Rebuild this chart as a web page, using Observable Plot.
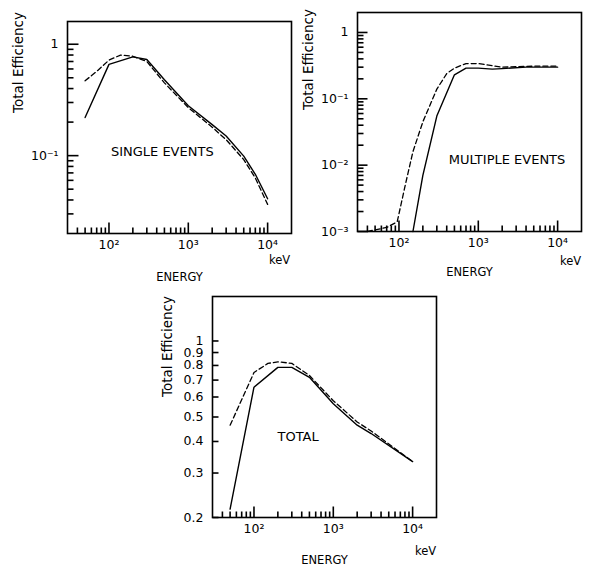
<!DOCTYPE html>
<html><head><meta charset="utf-8">
<script src="https://cdn.jsdelivr.net/npm/d3@7"></script>
<script src="https://cdn.jsdelivr.net/npm/@observablehq/plot@0.6"></script>
<style>
body{margin:0;background:#fff;}
#page{position:relative;width:593px;height:574px;background:#fff;overflow:hidden;}
#page > div{position:absolute;}
svg text{font-family:"DejaVu Sans",sans-serif;}
</style></head><body>
<div id="page"><div id="p1"></div><div id="p2"></div><div id="p3"></div></div>
<script>
// ---- data (energy in keV, total efficiency) ----
const singleSolidE   = [50, 100, 200, 300, 500, 1000, 2000, 3000, 5000, 7000, 10000];
const singleSolidEff = [0.22, 0.66, 0.77, 0.73, 0.48, 0.28, 0.19, 0.15, 0.099, 0.068, 0.041];
const singleDashE    = [50, 70, 100, 140, 200, 300, 500, 1000, 2000, 3000, 5000, 7000, 10000];
const singleDashEff  = [0.47, 0.57, 0.72, 0.80, 0.78, 0.70, 0.45, 0.27, 0.18, 0.139, 0.092, 0.063, 0.0365];

const multiSolidE    = [150, 200, 300, 500, 700, 1000, 1500, 2000, 4000, 10000];
const multiSolidEff  = [0.001, 0.007, 0.055, 0.23, 0.29, 0.29, 0.28, 0.285, 0.30, 0.30];
const multiDashE     = [40, 70, 95, 120, 150, 200, 300, 400, 500, 700, 1000, 2000, 5000, 10000];
const multiDashEff   = [0.001, 0.00115, 0.0014, 0.005, 0.016, 0.045, 0.14, 0.24, 0.29, 0.34, 0.34, 0.30, 0.31, 0.31];

const totalSolidE    = [50, 100, 200, 300, 500, 1000, 2000, 3000, 10000];
const totalSolidEff  = [0.216, 0.656, 0.786, 0.786, 0.718, 0.564, 0.464, 0.43, 0.333];
const totalDashE     = [50, 65, 100, 150, 200, 300, 500, 1000, 2000, 3000, 10000];
const totalDashEff   = [0.464, 0.556, 0.75, 0.815, 0.827, 0.815, 0.73, 0.58, 0.478, 0.44, 0.333];

// ---- axes ----
const xDomain = [30, 20000];
const xMajorTicks = [100, 1000, 10000];
const xTickLabels = ["10²", "10³", "10⁴"];
const xMinorTicks = [40, 50, 60, 70, 80, 90, 200, 300, 400, 500, 600, 700, 800, 900,
                     2000, 3000, 4000, 5000, 6000, 7000, 8000, 9000];

const singleYDomain = [0.02, 1.6];
const singleYMajor = [0.1, 1];
const singleYLabels = ["10⁻¹", "1"];
const singleYMinor = [0.03, 0.04, 0.05, 0.06, 0.07, 0.08, 0.09, 0.2, 0.3, 0.4, 0.5, 0.6, 0.7, 0.8, 0.9];

const multiYDomain = [0.001, 2];
const multiYMajor = [0.001, 0.01, 0.1, 1];
const multiYLabels = ["10⁻³", "10⁻²", "10⁻¹", "1"];
const multiYMinor = [0.002, 0.003, 0.004, 0.005, 0.006, 0.007, 0.008, 0.009,
                     0.02, 0.03, 0.04, 0.05, 0.06, 0.07, 0.08, 0.09,
                     0.2, 0.3, 0.4, 0.5, 0.6, 0.7, 0.8, 0.9];

const totalYDomain = [0.2, 1.5];
const totalYMajor = [1, 0.9, 0.8, 0.7, 0.6, 0.5, 0.4, 0.3, 0.2];
const totalYLabels = ["1", "0.9", "0.8", "0.7", "0.6", "0.5", "0.4", "0.3", "0.2"];

const notes = [
  {label: "SINGLE EVENTS", E: 470, eff: 0.108},
  {label: "MULTIPLE EVENTS", E: 2300, eff: 0.0119},
  {label: "TOTAL", E: 360, eff: 0.417}
];

const zip = (E, V) => E.map((e, i) => ({E: e, eff: V[i]}));

function makePanel(cfg) {
  const fw = cfg.width - cfg.mL - cfg.mR;
  const fh = cfg.height - cfg.mT - cfg.mB;
  const xr = Math.log10(xDomain[1] / xDomain[0]);
  const yr = Math.log10(cfg.yDomain[1] / cfg.yDomain[0]);
  // inward tick ends: a pixel length converted through the log scales
  const yEnd = L => cfg.yDomain[0] * Math.pow(10, L * yr / fh);
  const xEnd = L => xDomain[0] * Math.pow(10, L * xr / fw);
  const xTickRows = [
    ...xMinorTicks.map(t => ({x: t, y1: cfg.yDomain[0], y2: yEnd(6)})),
    ...xMajorTicks.map(t => ({x: t, y1: cfg.yDomain[0], y2: yEnd(11)}))
  ];
  const yTickRows = [
    ...cfg.yMinor.map(t => ({y: t, x1: xDomain[0], x2: xEnd(6)})),
    ...cfg.yMajor.map(t => ({y: t, x1: xDomain[0], x2: xEnd(cfg.yMajorLen)}))
  ];
  const xLab = new Map(xMajorTicks.map((t, i) => [t, xTickLabels[i]]));
  const yLab = new Map(cfg.yMajor.map((t, i) => [t, cfg.yLabels[i]]));
  const chart = Plot.plot({
    width: cfg.width, height: cfg.height,
    marginLeft: cfg.mL, marginRight: cfg.mR, marginTop: cfg.mT, marginBottom: cfg.mB,
    style: {fontFamily: "DejaVu Sans, sans-serif", fontSize: "12.5px", background: "transparent", color: "black", overflow: "visible"},
    x: {type: "log", domain: xDomain, ticks: xMajorTicks, tickFormat: d => xLab.get(d), tickSize: 0, tickPadding: 7, label: null},
    y: {type: "log", domain: cfg.yDomain, ticks: cfg.yMajor, tickFormat: d => yLab.get(d), tickSize: 0, tickPadding: 9, label: null},
    marks: [
      Plot.link(xTickRows, {x1: "x", x2: "x", y1: "y1", y2: "y2", stroke: "#000", strokeWidth: 1.6}),
      Plot.link(yTickRows, {x1: "x1", x2: "x2", y1: "y", y2: "y", stroke: "#000", strokeWidth: 1.6}),
      Plot.frame({stroke: "black", strokeWidth: 1.6}),
      Plot.line(cfg.solid, {x: "E", y: "eff", stroke: "black", strokeWidth: 1.4}),
      Plot.line(cfg.dash, {x: "E", y: "eff", stroke: "black", strokeWidth: 1.3, strokeDasharray: "5,3"}),
      Plot.text([cfg.note], {x: "E", y: "eff", text: "label", fontSize: 13, textAnchor: "middle"}),
      Plot.text(["Total Efficiency"], {frameAnchor: "top-left", dx: cfg.yl[0], dy: cfg.yl[1], rotate: -90, fontSize: 13.5, textAnchor: "middle", lineAnchor: "middle"}),
      Plot.text(["ENERGY"], {frameAnchor: "bottom", dy: cfg.xl, fontSize: 11.5, textAnchor: "middle", lineAnchor: "middle"}),
      Plot.text(["keV"], {frameAnchor: "bottom-right", dx: cfg.kev[0], dy: cfg.kev[1], fontSize: 11.5, textAnchor: "middle", lineAnchor: "middle"})
    ]
  });
  const host = document.getElementById(cfg.id);
  host.style.left = cfg.left + "px";
  host.style.top = cfg.top + "px";
  host.appendChild(chart);
}

makePanel({id: "p1", left: 0, top: 0, width: 300, height: 290, mL: 67, mR: 9, mT: 21, mB: 57,
  yDomain: singleYDomain, yMajor: singleYMajor, yLabels: singleYLabels, yMinor: singleYMinor, yMajorLen: 11,
  solid: zip(singleSolidE, singleSolidEff), dash: zip(singleDashE, singleDashEff), note: notes[0],
  yl: [-49, 41], xl: 44, kev: [-12, 27]});

makePanel({id: "p2", left: 290, top: 0, width: 303, height: 290, mL: 67, mR: 12, mT: 12, mB: 59,
  yDomain: multiYDomain, yMajor: multiYMajor, yLabels: multiYLabels, yMinor: multiYMinor, yMajorLen: 10,
  solid: zip(multiSolidE, multiSolidEff), dash: zip(multiDashE, multiDashEff), note: notes[1],
  yl: [-49, 47], xl: 41, kev: [-11, 30]});

makePanel({id: "p3", left: 140, top: 280, width: 320, height: 294, mL: 72, mR: 24, mT: 16, mB: 57,
  yDomain: totalYDomain, yMajor: totalYMajor, yLabels: totalYLabels, yMinor: [], yMajorLen: 6,
  solid: zip(totalSolidE, totalSolidEff), dash: zip(totalDashE, totalDashEff), note: notes[2],
  yl: [-45, 50], xl: 43, kev: [-11, 34]});
</script>
</body></html>
